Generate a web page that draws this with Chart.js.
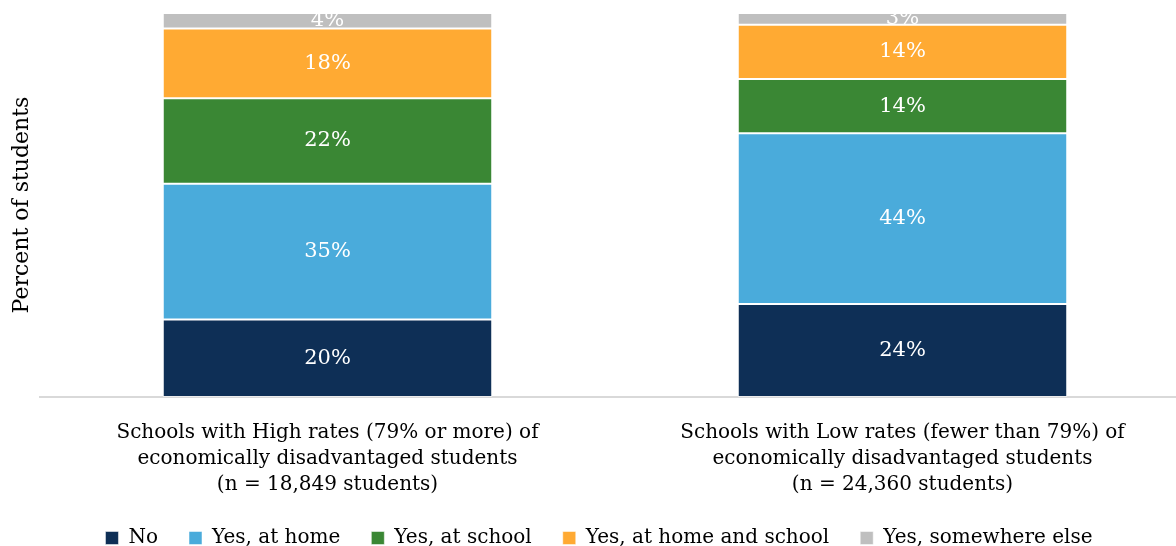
<!DOCTYPE html>
<html>
<head>
<meta charset="utf-8">
<title>Computer access by school poverty rate</title>
<script src="https://cdn.jsdelivr.net/npm/chart.js@4/dist/chart.umd.min.js"></script>
<style>
  html, body { margin: 0; padding: 0; background: #fff; overflow: hidden; }
  #wrap { width: 1200px; height: 558px; }
</style>
</head>
<body>
<div id="wrap"><canvas id="accessChart" width="1200" height="558"></canvas></div>
<script>
// school groups (x axis)
const categories = [
  ["Schools with High rates (79% or more) of", "economically disadvantaged students", "(n = 18,849 students)"],
  ["Schools with Low rates (fewer than 79%) of", "economically disadvantaged students", "(n = 24,360 students)"]
];

// percent of students per answer
const seriesNames = ["No", "Yes, at home", "Yes, at school", "Yes, at home and school", "Yes, somewhere else"];
const noValues = [20, 24];
const atHomeValues = [35, 44];
const atSchoolValues = [22, 14];
const homeAndSchoolValues = [18, 14];
const elsewhereValues = [4, 3];

const colors = ["#0e2f56", "#4aabdb", "#3a8734", "#ffaa33", "#bfbfbf"];
const FONT = "'DejaVu Serif', serif";
const PLOT_BOTTOM = 397;

const allValues = [noValues, atHomeValues, atSchoolValues, homeAndSchoolValues, elsewhereValues];

// white percent labels in the middle of each segment
const segmentLabels = {
  id: "segmentLabels",
  afterDatasetsDraw(chart) {
    const ctx = chart.ctx;
    ctx.save();
    ctx.fillStyle = "#ffffff";
    ctx.font = "21px " + FONT;
    ctx.textAlign = "center";
    ctx.textBaseline = "middle";
    chart.data.datasets.forEach((ds, i) => {
      chart.getDatasetMeta(i).data.forEach((bar, j) => {
        const p = bar.getCenterPoint();
        ctx.fillText(ds.data[j] + "%", p.x, p.y);
      });
    });
    ctx.restore();
  }
};

new Chart(document.getElementById("accessChart"), {
  type: "bar",
  data: {
    labels: categories,
    datasets: seriesNames.map((name, i) => ({
      label: name,
      data: allValues[i],
      backgroundColor: colors[i],
      borderColor: "rgba(255,255,255,0.5)",
      borderWidth: 1,
      borderSkipped: false,
      categoryPercentage: 1,
      barPercentage: 0.573
    }))
  },
  options: {
    responsive: false,
    animation: false,
    layout: { padding: { top: 13, right: 10, bottom: 0, left: 8 } },
    scales: {
      x: {
        stacked: true,
        grid: { display: false, drawTicks: false },
        border: { color: "#d9d9d9", width: 2 },
        ticks: {
          color: "#000",
          padding: 23,
          maxRotation: 0,
          autoSkip: false,
          font: { family: FONT, size: 20, lineHeight: 1.3 }
        },
        afterFit(scale) {
          scale.height = 558 - PLOT_BOTTOM - scale.chart.legend.height;
        }
      },
      y: {
        stacked: true,
        min: 0,
        max: 99,
        grid: { display: false, drawTicks: false },
        border: { display: false },
        ticks: { display: false },
        title: {
          display: true,
          text: "Percent of students",
          color: "#000",
          padding: { top: 1, bottom: 0 },
          font: { family: FONT, size: 22 }
        },
        afterFit(scale) { scale.width = 32; }
      }
    },
    plugins: {
      legend: {
        position: "bottom",
        labels: {
          color: "#000",
          boxWidth: 13,
          boxHeight: 13,
          padding: 31,
          font: { family: FONT, size: 20 }
        }
      },
      tooltip: { enabled: false }
    }
  },
  plugins: [segmentLabels]
});
</script>
</body>
</html>
